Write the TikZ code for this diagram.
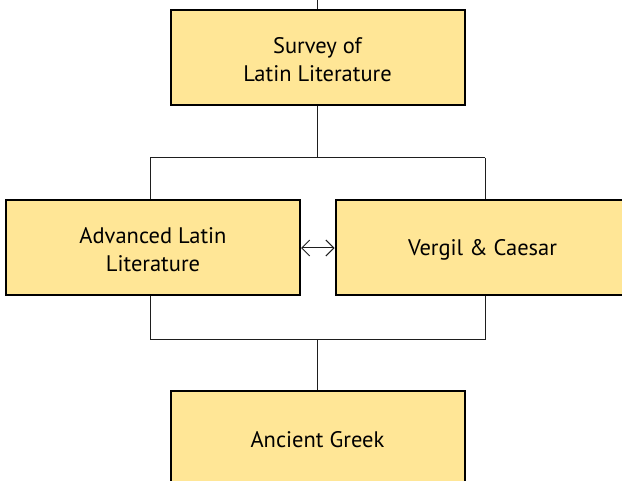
\documentclass[tikz,border=0pt]{standalone}
\usepackage{fontspec}
\setmainfont{PT Sans}
\usetikzlibrary{arrows.meta}
\definecolor{boxfill}{RGB}{255,230,150}
\definecolor{linegray}{RGB}{30,30,30}
\begin{document}
\begin{tikzpicture}[x=1pt,y=-1pt,
  course/.style={draw=black, line width=2pt, fill=boxfill,
    minimum width=294pt, minimum height=95pt, inner sep=0pt,
    align=center, font=\fontsize{22.5}{28}\selectfont, text=black,
    text height=16pt, text depth=0pt},
  twoline/.style={text height=47pt},
  link/.style={draw=linegray, line width=1pt},
  barb/.tip={Straight Barb[length=8pt,width=16pt,line width=1pt]}]
\useasboundingbox (0,0) rectangle (622,481);
\clip (0,0) rectangle (622,481);
% course boxes
\node[course, twoline] (sv) at (317.5,58) {Survey of\\Latin Literature};
\node[course, twoline] (adv) at (153,248) {Advanced Latin\\Literature};
\node[course] (vc) at (482.5,248) {Vergil \& Caesar};
\node[course] (ag) at (317.5,439) {Ancient Greek};
% branch points
\coordinate (in) at (317.5,-5);
\coordinate (jl) at (150,158);
\coordinate (jr) at (485,158);
\coordinate (kl) at (150,340);
\coordinate (kr) at (485,340);
% connectors
\draw[link] (in) -- (sv.north);
\draw[link] (sv.south) -- (sv.south |- jl);
\draw[link] (jl) -- (jr);
\draw[link] (jl) -- (jl |- adv.north);
\draw[link] (jr) -- (jr |- vc.north);
\draw[link] (kl |- adv.south) -- (kl) -- (kr) -- (kr |- vc.south);
\draw[link] (ag.north |- kl) -- (ag.north);
\draw[link, barb-barb] (adv.east) -- (vc.west);
\end{tikzpicture}
\end{document}
